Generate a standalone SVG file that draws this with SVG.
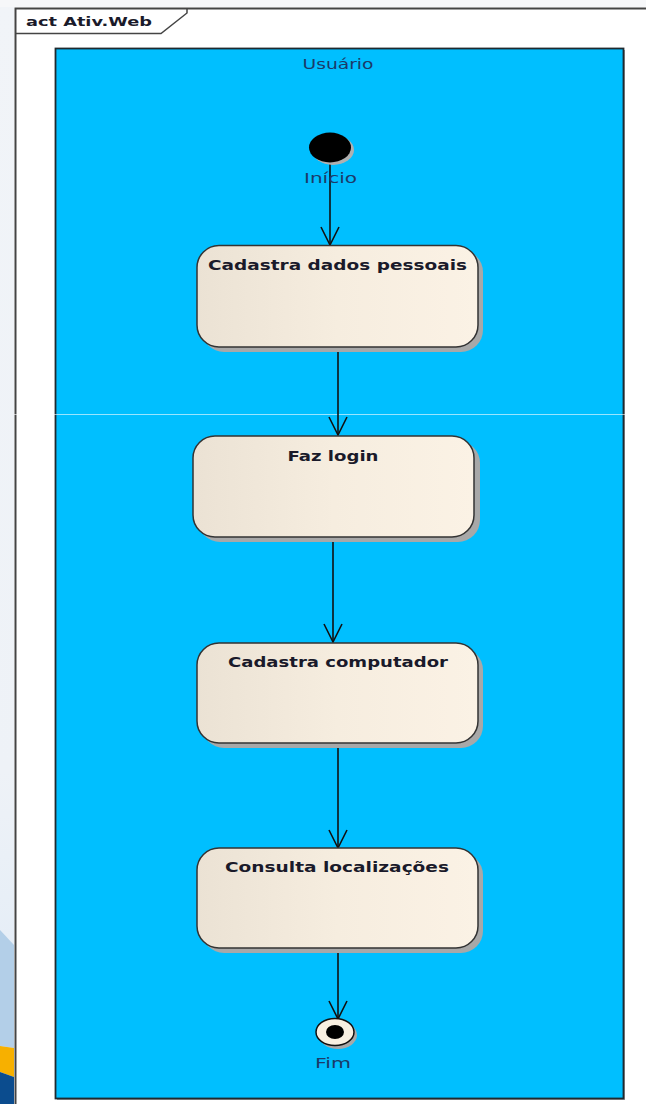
<svg xmlns="http://www.w3.org/2000/svg" width="646" height="1104" viewBox="0 0 646 1104">
<style>
.node-shadow{fill:#a8a8a8}
.node-box{fill:url(#nodeGrad);stroke:#333;stroke-width:1.5}
.node-label{font-family:"DejaVu Sans",Verdana,sans-serif;font-weight:bold;font-size:13.5px;fill:#1a1a2a;text-anchor:middle}
.lbl{font-family:"DejaVu Sans",Verdana,sans-serif;font-size:14px;fill:#1c3a68;text-anchor:middle}
.edge{stroke:#111;stroke-width:1.6;fill:none}
.head{stroke:#111;stroke-width:1.6;fill:none;stroke-linejoin:miter}
</style>
<defs>
<linearGradient id="nodeGrad" x1="0" y1="0" x2="1" y2="0">
<stop offset="0" stop-color="#ebe2d4"/>
<stop offset="0.5" stop-color="#f6eddf"/>
<stop offset="1" stop-color="#fbf2e5"/>
</linearGradient>
<linearGradient id="bgGrad" x1="0" y1="0" x2="0" y2="1">
<stop offset="0" stop-color="#f1f4f8"/>
<stop offset="0.7" stop-color="#eef2f7"/>
<stop offset="0.85" stop-color="#e6eef7"/>
<stop offset="1" stop-color="#dde7f2"/>
</linearGradient>
</defs>
<g id="background">
<rect x="0" y="0" width="646" height="1104" fill="#ffffff"/>
<rect x="0" y="0" width="14" height="1104" fill="url(#bgGrad)"/>
<polygon points="0,930 14,945 14,1048 0,1046" fill="#b3cfe8"/>
<polygon points="0,1046 14,1048 14,1077 0,1072" fill="#f7b000"/>
<polygon points="0,1072 14,1077 14,1104 0,1104" fill="#0b4c8e"/>
<rect x="0" y="0" width="646" height="7" fill="#f6f7f9"/>
</g>
<g id="frame">
<path d="M15.5,1104 V8.5 H646" fill="none" stroke="#444" stroke-width="2"/>
<path d="M16,33.5 H161 L187,13 V9" fill="none" stroke="#444" stroke-width="1.5"/>
<text x="26" y="26" font-family="DejaVu Sans,Verdana,sans-serif" font-weight="bold" font-size="13px" fill="#1a1a2a" textLength="126" lengthAdjust="spacingAndGlyphs">act Ativ.Web</text>
</g>
<g id="lane">
<rect x="57" y="50" width="568" height="1050" fill="#a0a0a0"/>
<rect x="55.5" y="48.5" width="568" height="1050" fill="#00bfff" stroke="#1e2a30" stroke-width="1.8"/>
<text x="338" y="69" class="lbl" textLength="71" lengthAdjust="spacingAndGlyphs">Usuário</text>
</g>
<line x1="14" y1="414.5" x2="626" y2="414.5" stroke="#ffffff" stroke-width="1" opacity="0.6"/>
<g id="connectors">
<line class="edge" x1="330" y1="160" x2="330" y2="245"/>
<polyline class="head" points="321,227 330,245 339,227"/>
<line class="edge" x1="338" y1="347" x2="338" y2="435"/>
<polyline class="head" points="329,417 338,435 347,417"/>
<line class="edge" x1="333" y1="537" x2="333" y2="642"/>
<polyline class="head" points="324,624 333,642 342,624"/>
<line class="edge" x1="338" y1="743" x2="338" y2="848"/>
<polyline class="head" points="329,830 338,848 347,830"/>
<line class="edge" x1="338" y1="948" x2="338" y2="1019"/>
<polyline class="head" points="329,1001 338,1019 347,1001"/>
</g>
<g id="inicio">
<ellipse cx="333" cy="150" rx="21" ry="15" fill="#b0b0b0"/>
<ellipse cx="330" cy="147.5" rx="21" ry="15" fill="#000"/>
<text x="330.5" y="183" class="lbl" textLength="53" lengthAdjust="spacingAndGlyphs">Início</text>
</g>
<g id="cadastra-dados">
<rect class="node-shadow" x="202" y="250" width="281" height="102" rx="22"/>
<rect class="node-box" x="197" y="245.5" width="281" height="101.5" rx="22"/>
<text x="337.5" y="270" class="node-label" textLength="259" lengthAdjust="spacingAndGlyphs">Cadastra dados pessoais</text>
</g>
<g id="faz-login">
<rect class="node-shadow" x="198" y="441" width="282" height="101" rx="22"/>
<rect class="node-box" x="193" y="436" width="281" height="101" rx="22"/>
<text x="333" y="461" class="node-label" textLength="91" lengthAdjust="spacingAndGlyphs">Faz login</text>
</g>
<g id="cadastra-computador">
<rect class="node-shadow" x="202" y="648" width="281" height="100" rx="22"/>
<rect class="node-box" x="197" y="643" width="281" height="100" rx="22"/>
<text x="338" y="667" class="node-label" textLength="220" lengthAdjust="spacingAndGlyphs">Cadastra computador</text>
</g>
<g id="consulta-localizacoes">
<rect class="node-shadow" x="202" y="853" width="281" height="100" rx="22"/>
<rect class="node-box" x="197" y="848" width="281" height="100" rx="22"/>
<text x="337" y="872" class="node-label" textLength="224" lengthAdjust="spacingAndGlyphs">Consulta localizações</text>
</g>
<g id="fim">
<ellipse cx="338" cy="1035" rx="19" ry="14" fill="#a8a8a8"/>
<ellipse cx="335" cy="1032" rx="19" ry="13.5" fill="#f8f0e2" stroke="#111" stroke-width="1.5"/>
<ellipse cx="335" cy="1032" rx="9" ry="7" fill="#000"/>
<text x="333" y="1068" class="lbl" textLength="36" lengthAdjust="spacingAndGlyphs">Fim</text>
</g>
</svg>
